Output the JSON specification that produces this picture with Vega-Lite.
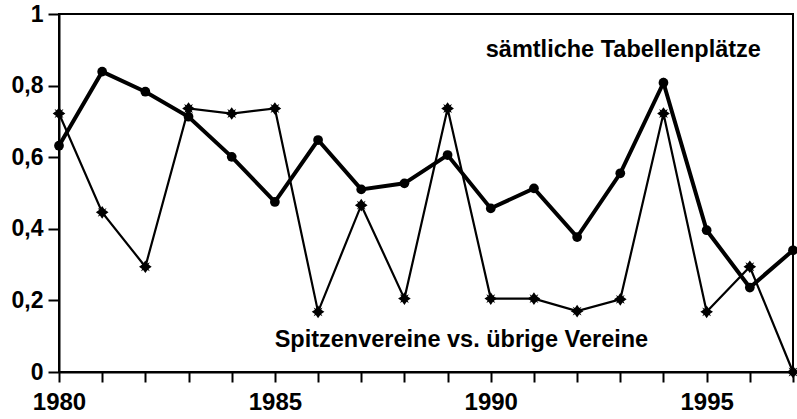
{
  "$schema": "https://vega.github.io/schema/vega-lite/v6.json",
  "autosize": {"type": "none"},
  "width": 734,
  "height": 358,
  "padding": {"left": 59, "top": 14, "right": 4, "bottom": 47},
  "background": "white",
  "config": {
    "view": {"stroke": "black", "strokeWidth": 2},
    "font": "Liberation Sans"
  },
  "datasets": {
    "series": [
      {"year": 1980, "s": "alle", "v": 0.632},
      {"year": 1981, "s": "alle", "v": 0.839},
      {"year": 1982, "s": "alle", "v": 0.783},
      {"year": 1983, "s": "alle", "v": 0.713},
      {"year": 1984, "s": "alle", "v": 0.601},
      {"year": 1985, "s": "alle", "v": 0.475},
      {"year": 1986, "s": "alle", "v": 0.648},
      {"year": 1987, "s": "alle", "v": 0.51},
      {"year": 1988, "s": "alle", "v": 0.527},
      {"year": 1989, "s": "alle", "v": 0.606},
      {"year": 1990, "s": "alle", "v": 0.457},
      {"year": 1991, "s": "alle", "v": 0.513},
      {"year": 1992, "s": "alle", "v": 0.377},
      {"year": 1993, "s": "alle", "v": 0.555},
      {"year": 1994, "s": "alle", "v": 0.808},
      {"year": 1995, "s": "alle", "v": 0.396},
      {"year": 1996, "s": "alle", "v": 0.236},
      {"year": 1997, "s": "alle", "v": 0.34},
      {"year": 1980, "s": "spitze", "v": 0.722},
      {"year": 1981, "s": "spitze", "v": 0.446},
      {"year": 1982, "s": "spitze", "v": 0.294},
      {"year": 1983, "s": "spitze", "v": 0.736},
      {"year": 1984, "s": "spitze", "v": 0.722},
      {"year": 1985, "s": "spitze", "v": 0.736},
      {"year": 1986, "s": "spitze", "v": 0.168},
      {"year": 1987, "s": "spitze", "v": 0.466},
      {"year": 1988, "s": "spitze", "v": 0.205},
      {"year": 1989, "s": "spitze", "v": 0.736},
      {"year": 1990, "s": "spitze", "v": 0.205},
      {"year": 1991, "s": "spitze", "v": 0.205},
      {"year": 1992, "s": "spitze", "v": 0.17},
      {"year": 1993, "s": "spitze", "v": 0.203},
      {"year": 1994, "s": "spitze", "v": 0.722},
      {"year": 1995, "s": "spitze", "v": 0.168},
      {"year": 1996, "s": "spitze", "v": 0.294},
      {"year": 1997, "s": "spitze", "v": 0.0}
    ],
    "labels": [
      {"year": 1993.07, "v": 0.9, "t": "sämtliche Tabellenplätze"},
      {"year": 1989.32, "v": 0.09, "t": "Spitzenvereine vs. übrige Vereine"}
    ]
  },
  "encoding": {
    "x": {
      "field": "year", "type": "quantitative",
      "scale": {"domain": [1980, 1997], "nice": false, "zero": false},
      "axis": {
        "title": null, "values": [1980,1981,1982,1983,1984,1985,1986,1987,1988,1989,1990,1991,1992,1993,1994,1995,1996,1997],
        "labelExpr": "datum.value % 5 == 0 ? datum.value : ''",
        "grid": false, "domainColor": "black", "domainWidth": 2, "tickColor": "black", "tickWidth": 2, "tickSize": 10,
        "labelFont": "Liberation Sans", "labelFontSize": 24, "labelFontWeight": "bold", "labelColor": "black",
        "labelPadding": 8, "labelFlush": false, "labelOverlap": false
      }
    },
    "y": {
      "field": "v", "type": "quantitative",
      "scale": {"domain": [0, 1], "nice": false},
      "axis": {
        "title": null, "values": [0, 0.2, 0.4, 0.6, 0.8, 1],
        "labelExpr": "datum.value == 0 ? '0' : datum.value == 1 ? '1' : replace(format(datum.value, '.1f'), '.', ',')",
        "grid": false, "domainColor": "black", "domainWidth": 2, "tickColor": "black", "tickWidth": 2, "tickSize": 11,
        "labelFont": "Liberation Sans", "labelFontSize": 23, "labelFontWeight": "bold", "labelColor": "black",
        "labelPadding": 5, "labelFlush": false, "labelOverlap": false
      }
    }
  },
  "layer": [
    {
      "data": {"name": "series"},
      "transform": [{"filter": "datum.s == 'spitze'"}],
      "mark": {"type": "line", "color": "black", "strokeWidth": 2.2},
      "encoding": {}
    },
    {
      "data": {"name": "series"},
      "transform": [{"filter": "datum.s == 'spitze'"}],
      "mark": {"type": "point", "shape": "M0,-1L0.35,-0.5L0.7,-0.7L0.5,-0.35L1,0L0.5,0.35L0.7,0.7L0.35,0.5L0,1L-0.35,0.5L-0.7,0.7L-0.5,0.35L-1,0L-0.5,-0.35L-0.7,-0.7L-0.35,-0.5Z", "filled": true, "color": "black", "size": 160, "opacity": 1},
      "encoding": {}
    },
    {
      "data": {"name": "series"},
      "transform": [{"filter": "datum.s == 'alle'"}],
      "mark": {"type": "line", "color": "black", "strokeWidth": 4},
      "encoding": {}
    },
    {
      "data": {"name": "series"},
      "transform": [{"filter": "datum.s == 'alle'"}],
      "mark": {"type": "point", "shape": "circle", "filled": true, "color": "black", "size": 95, "opacity": 1},
      "encoding": {}
    },
    {
      "data": {"name": "labels"},
      "mark": {"type": "text", "font": "Liberation Sans", "fontSize": 23.5, "fontWeight": "bold", "color": "black", "align": "center", "baseline": "middle"},
      "encoding": {"text": {"field": "t"}}
    }
  ]
}
